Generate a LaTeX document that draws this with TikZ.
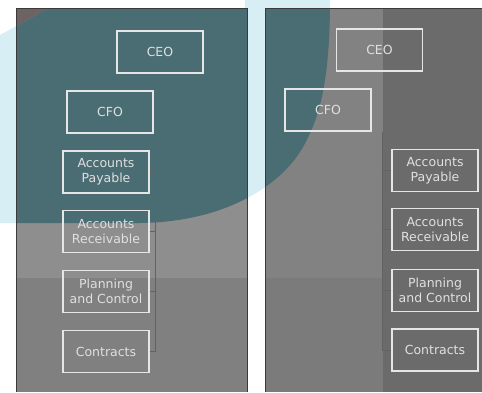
\documentclass[tikz,border=0pt]{standalone}
\usepackage{fontspec}
\setmainfont{DejaVu Sans}
\usetikzlibrary{calc}
\definecolor{wash}{HTML}{D6EEF4}
\definecolor{teal wash}{HTML}{4A6C73}
\definecolor{corner}{HTML}{6E6363}
\definecolor{panel hi}{HTML}{8E8E8E}
\definecolor{panel lo}{HTML}{808080}
\definecolor{panel mid}{HTML}{828282}
\definecolor{panel mid lo}{HTML}{7B7B7B}
\definecolor{panel dark}{HTML}{6B6B6B}
\definecolor{edge}{HTML}{3A3A3A}
\definecolor{boxline}{HTML}{E6E6E6}
\definecolor{boxtext}{HTML}{E0E0E0}
\definecolor{linkgray}{HTML}{626262}
\tikzset{
    org box/.style={
        draw=boxline,
        line width=1.5pt,
        minimum width=86pt,
        minimum height=42pt,
        align=center,
        inner sep=1pt,
        text=boxtext,
        font=\fontsize{12.5}{15}\selectfont
    },
    org link/.style={draw=linkgray, line width=0.8pt},
    panel edge/.style={draw=edge, line width=1pt}
}

\begin{document}
\begin{tikzpicture}[x=1pt,y=-1pt]
    \useasboundingbox (0,0) rectangle (482,392);
    \fill[white] (0,0) rectangle (482,392);

    % light wash behind the panels
    \def\washpath{(0,35) -- (49,8) -- (245,8) -- (245,0) -- (330,0)
        .. controls (330,80) and (320,120) .. (300,152)
        .. controls (275,190) and (220,222) .. (140,223) -- (0,223) -- cycle}
    \fill[wash] \washpath;

    % panels
    \fill[panel hi] (16,8) rectangle (247,278);
    \fill[panel lo] (16,278) rectangle (247,392);
    \fill[corner] (16,8) -- (49,8) -- (16,26) -- cycle;
    \fill[panel mid] (265,8) rectangle (383,278);
    \fill[panel mid lo] (265,278) rectangle (383,392);
    \fill[panel dark] (383,8) rectangle (482,392);
    \begin{scope}
        \clip (16,8) rectangle (247,392) (265,8) rectangle (482,392);
        \fill[teal wash] \washpath;
    \end{scope}
    \draw[panel edge] (16,392) -- (16,8) -- (247,8) -- (247,392);
    \draw[panel edge] (265,392) -- (265,8) -- (482,8);

    % left chart
    \node[org box] (lceo) at (160,52) {CEO};
    \node[org box] (lcfo) at (110,112) {CFO};
    \node[org box] (lap) at (106,172) {Accounts\\Payable};
    \node[org box] (lar) at (106,231.5) {Accounts\\Receivable};
    \node[org box] (lpc) at (106,291.5) {Planning\\and Control};
    \node[org box] (lct) at (106,351.5) {Contracts};
    \coordinate (lbus) at (155,134);
    \draw[org link] (lbus) |- (lct.east);
    \draw[org link] (lap.east) -- (lap.east -| lbus);
    \draw[org link] (lar.east) -- (lar.east -| lbus);
    \draw[org link] (lpc.east) -- (lpc.east -| lbus);

    % right chart
    \node[org box] (rceo) at (379.5,50) {CEO};
    \node[org box] (rcfo) at (328,110) {CFO};
    \node[org box] (rap) at (435,170.5) {Accounts\\Payable};
    \node[org box] (rar) at (435,229.5) {Accounts\\Receivable};
    \node[org box] (rpc) at (435,290.5) {Planning\\and Control};
    \node[org box] (rct) at (435,350) {Contracts};
    \coordinate (rbus) at (382,132);
    \draw[org link] (rbus) |- (rct.west);
    \draw[org link] (rap.west) -- (rap.west -| rbus);
    \draw[org link] (rar.west) -- (rar.west -| rbus);
    \draw[org link] (rpc.west) -- (rpc.west -| rbus);
\end{tikzpicture}
\end{document}
